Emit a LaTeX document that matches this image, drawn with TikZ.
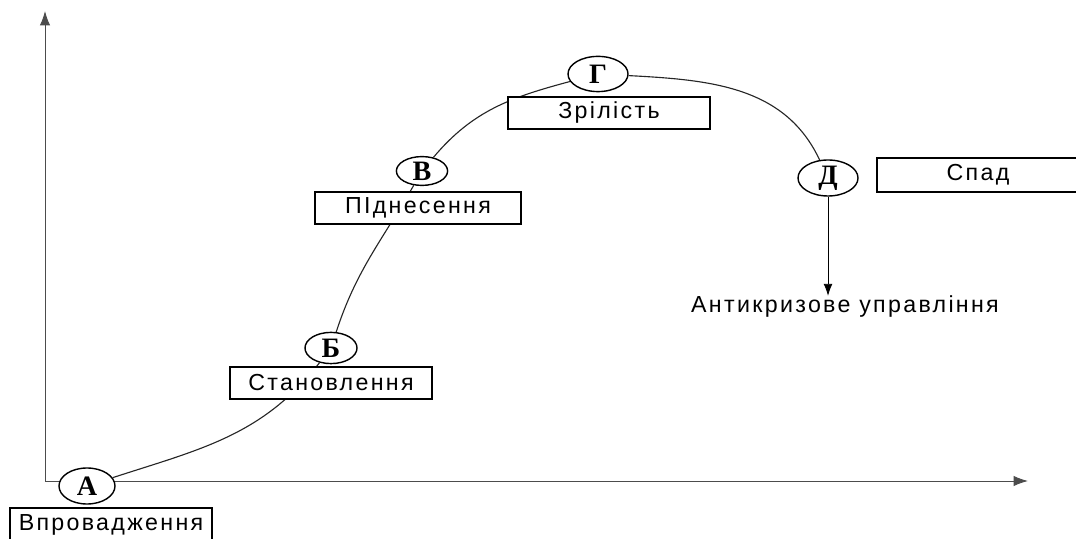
\documentclass[tikz,border=0pt]{standalone}
\usepackage{fontspec}
\setmainfont{Liberation Sans}
\newfontfamily\stagefont{Liberation Serif}
\newfontfamily\boxfont[LetterSpace=10]{Liberation Sans}
\usetikzlibrary{arrows, arrows.meta, positioning, shapes.geometric, backgrounds}
\tikzset{
  lifecycle/.style={
	x=0.025cm, y=0.025cm, % one unit is one pixel of the picture
	>={Latex[length=3.6mm, width=2.6mm]}, % filled arrow heads
	axis/.style={->, draw=black!70, line width=0.7pt},
	curve/.style={draw=black!85, line width=0.8pt},
	stage/.style={ellipse, draw, line width=1pt, fill=white, inner sep=0pt,
	  minimum width=1.4cm, minimum height=0.85cm,
	  font=\stagefont\bfseries\fontsize{20}{20}\selectfont}, % the letters on the curve
	phase/.style={rectangle, draw, line width=1.1pt, fill=white,
	  minimum width=5.05cm, minimum height=0.8cm,
	  font=\boxfont\fontsize{16.5}{16.5}\selectfont}, % the boxes with the names
  }
}
\begin{document}
\begin{tikzpicture}[lifecycle]
	  \useasboundingbox (0,0) rectangle (1076,538);
	  \coordinate (o) at (45,57);
	  \coordinate (ytop) at (45,527);
	  \coordinate (xend) at (1028,57);
	  \draw[axis] (o) -- (ytop);
	  \draw[axis] (o) -- (xend);
	  \node[stage, minimum height=0.9cm] (sa) at (87,52) {А};
	  \node[stage, minimum width=1.3cm, minimum height=0.78cm] (sb) at (331,190) {Б};
	  \node[stage, minimum width=1.28cm, minimum height=0.72cm] (sv) at (422,367) {В};
	  \node[stage, minimum width=1.5cm, minimum height=0.88cm] (sg) at (598,464) {Г};
	  \node[stage, minimum width=1.5cm, minimum height=0.9cm] (sd) at (828,360) {Д};
	  \begin{scope}[on background layer] % curve under the boxes, boxes under the ellipses
	  \draw[curve] (sa) to[out=18, in=232] (sb);
	  \draw[curve] (sb) to[out=72, in=240] (sv);
	  \draw[curve] (sv) to[out=50, in=195] (sg);
	  \draw[curve] (sg) to[out=-3, in=115] (sd);
	  \node[phase, minimum height=0.85cm] (pa) at (111,13) {Впровадження};
	  \node[phase] (pb) at (331,155) {Становлення};
	  \node[phase, minimum width=5.15cm] (pv) at (418,330) {ПІднесення};
	  \node[phase] (pg) at (609,425) {Зрілість};
	  \node[phase, minimum height=0.85cm] (pd) at (978,363) {Спад};
	  \end{scope}
	  \node[font=\boxfont\fontsize{16.5}{16.5}\selectfont, inner sep=0pt] (anti) at (845,231) {Антикризове управління};
	  \draw[-{Latex[length=3mm, width=2.2mm]}, line width=0.6pt] (sd) -- (sd |- anti.north);
\end{tikzpicture}
\end{document}
